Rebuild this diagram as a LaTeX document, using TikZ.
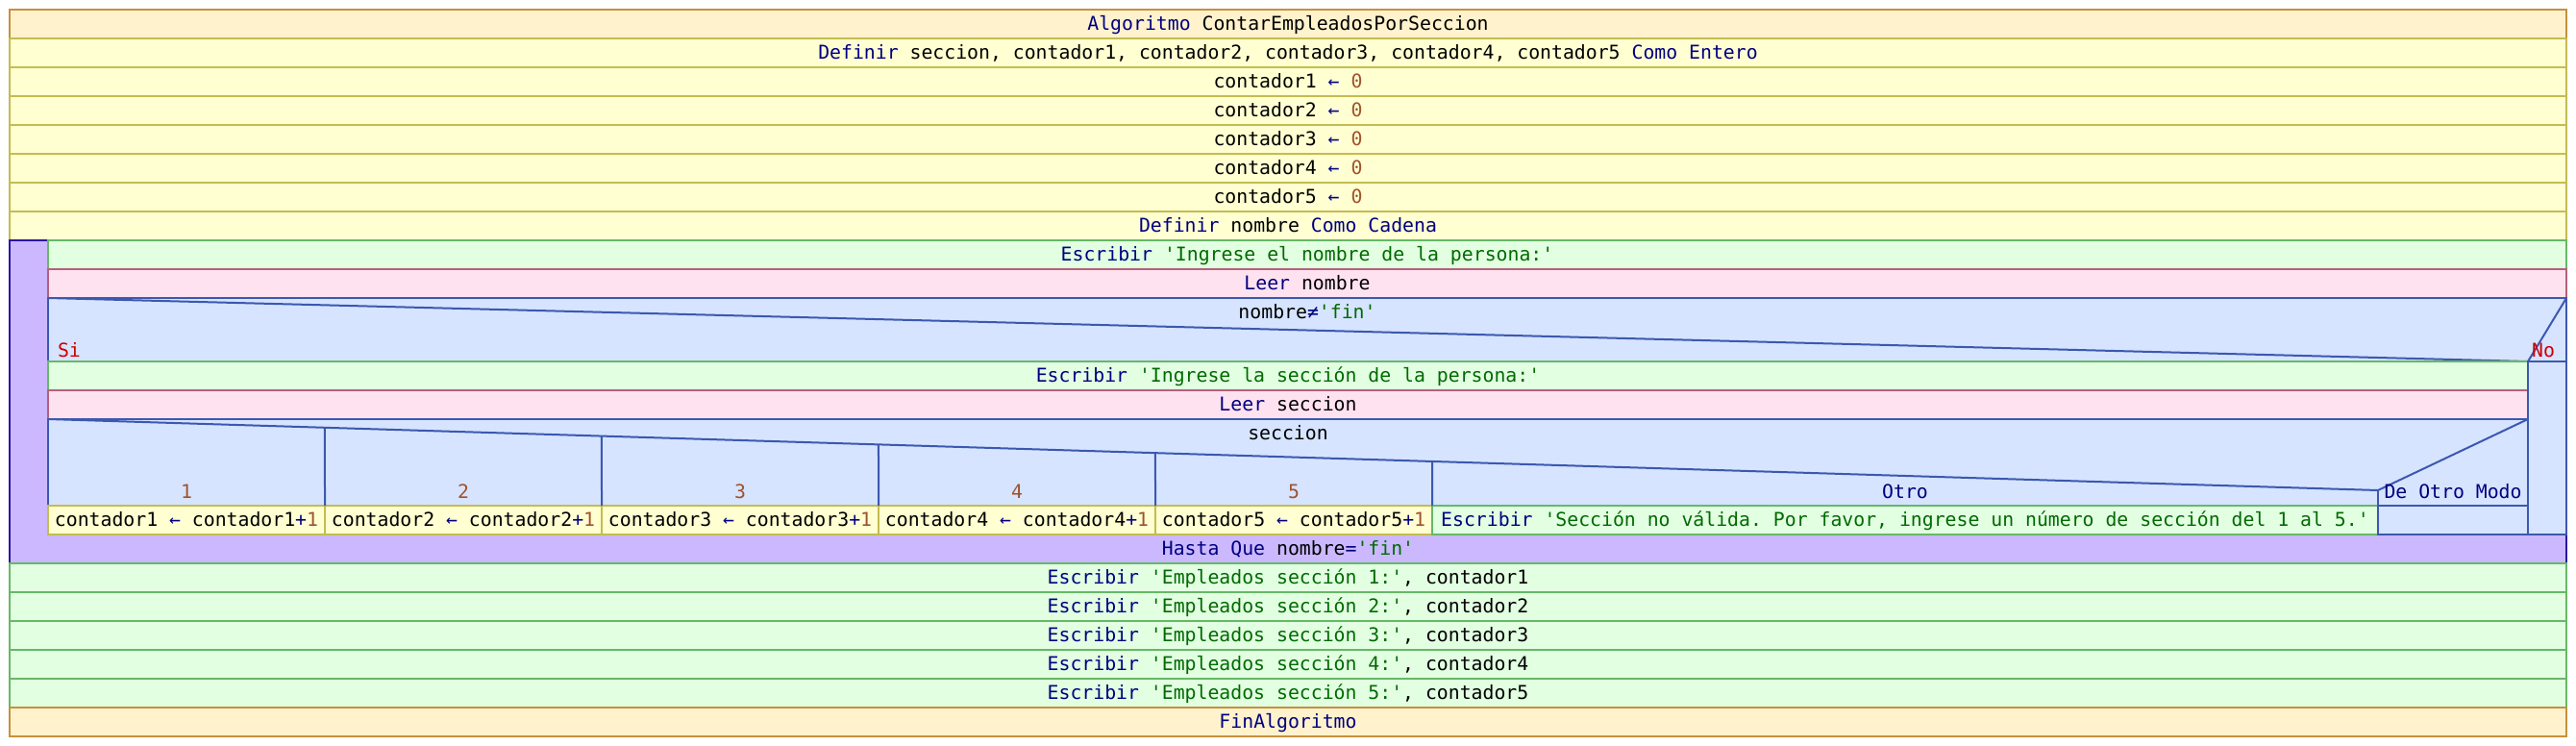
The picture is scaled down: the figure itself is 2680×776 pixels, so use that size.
\documentclass[tikz,border=0pt]{standalone}
\usepackage{fontspec}
\setmonofont{DejaVu Sans Mono}
\usetikzlibrary{positioning,calc}

\definecolor{algfill}{HTML}{FFF2CC}
\definecolor{algline}{HTML}{C8903C}
\definecolor{asgfill}{HTML}{FFFFD2}
\definecolor{asgline}{HTML}{C4BC50}
\definecolor{escfill}{HTML}{E2FFE2}
\definecolor{escline}{HTML}{66B866}
\definecolor{leefill}{HTML}{FFE2F0}
\definecolor{leeline}{HTML}{B4607C}
\definecolor{cndfill}{HTML}{D6E4FF}
\definecolor{cndline}{HTML}{3C58B0}
\definecolor{loopfill}{HTML}{CBB8FF}
\definecolor{loopline}{HTML}{2C14A4}
\definecolor{kwcol}{HTML}{000080}
\definecolor{strcol}{HTML}{006A00}
\definecolor{numcol}{HTML}{A0522D}
\definecolor{sicol}{HTML}{CC0000}

\newcommand{\kwd}[1]{\textcolor{kwcol}{#1}}
\newcommand{\strg}[1]{\textcolor{strcol}{#1}}
\newcommand{\nmb}[1]{\textcolor{numcol}{#1}}

\begin{document}
\begin{tikzpicture}
[x=1pt, y=-1pt, font=\ttfamily\fontsize{19.8}{24}\selectfont,
    every node/.style={inner sep=0pt, outer sep=0pt, text height=16pt, text depth=2.6pt},
    row/.style={rectangle, line width=2pt, minimum height=30pt, anchor=north west},
    under/.style={below=0pt of #1, anchor=north west},
    beside/.style={right=0pt of #1, anchor=north west},
    wide/.style={minimum width=2660pt},
    body/.style={minimum width=2620pt},
    branch/.style={minimum width=2580pt},
    case/.style={minimum width=288pt},
    algbox/.style={row, fill=algfill, draw=algline},
    asgbox/.style={row, fill=asgfill, draw=asgline},
    escbox/.style={row, fill=escfill, draw=escline},
    leebox/.style={row, fill=leefill, draw=leeline},
    cndbox/.style={row, fill=cndfill, draw=cndline},
    loopbox/.style={row, fill=loopfill, draw=loopline},
    cndln/.style={draw=cndline, line width=2pt},
    caselbl/.style={anchor=base},
    ]
    \useasboundingbox (0,0) rectangle (2680,776);

    % cabecera y definiciones
    \node[algbox, wide] (alg) at (10,10) {\kwd{Algoritmo} ContarEmpleadosPorSeccion};
    \node[asgbox, wide, under=alg.south west] (defs) {\kwd{Definir} seccion, contador1, contador2, contador3, contador4, contador5 \kwd{Como Entero}};
    \node[asgbox, wide, under=defs.south west] (c1) {contador1 \kwd{←} \nmb{0}};
    \node[asgbox, wide, under=c1.south west] (c2) {contador2 \kwd{←} \nmb{0}};
    \node[asgbox, wide, under=c2.south west] (c3) {contador3 \kwd{←} \nmb{0}};
    \node[asgbox, wide, under=c3.south west] (c4) {contador4 \kwd{←} \nmb{0}};
    \node[asgbox, wide, under=c4.south west] (c5) {contador5 \kwd{←} \nmb{0}};
    \node[asgbox, wide, under=c5.south west] (defn) {\kwd{Definir} nombre \kwd{Como Cadena}};

    % repetir ... hasta que
    \node[loopbox, wide, minimum height=336pt, under=defn.south west] (loop) {};
    \node[escbox, body] (ask1) at (50,250) {\kwd{Escribir} \strg{'Ingrese el nombre de la persona:'}};
    \node[leebox, body, under=ask1.south west] (read1) {\kwd{Leer} nombre};
    \node[cndbox, body, minimum height=66pt, under=read1.south west] (cond) {};
    \node (condtxt) at ($(cond.north)+(0,15)$) {nombre\kwd{≠}\strg{'fin'}};
    \coordinate (nosplit) at (2630,376);
    \draw[cndln] (cond.north west) -- (nosplit) -- (cond.north east);
    \node[anchor=base west, text=sicol] (si) at (60,371) {Si};
    \node[anchor=base east, text=sicol] (no) at (2658,371) {No};

    % rama Si
    \node[escbox, branch, under=cond.south west] (ask2) {\kwd{Escribir} \strg{'Ingrese la sección de la persona:'}};
    \node[leebox, branch, under=ask2.south west] (read2) {\kwd{Leer} seccion};
    \node[cndbox, branch, minimum height=90pt, under=read2.south west] (sel) {};
    \node (seltxt) at ($(sel.north)+(0,15)$) {seccion};
    \node[asgbox, case, under=sel.south west] (b1) {contador1 \kwd{←} contador1\kwd{+}\nmb{1}};
    \node[asgbox, case, beside=b1.north east] (b2) {contador2 \kwd{←} contador2\kwd{+}\nmb{1}};
    \node[asgbox, case, beside=b2.north east] (b3) {contador3 \kwd{←} contador3\kwd{+}\nmb{1}};
    \node[asgbox, case, beside=b3.north east] (b4) {contador4 \kwd{←} contador4\kwd{+}\nmb{1}};
    \node[asgbox, case, beside=b4.north east] (b5) {contador5 \kwd{←} contador5\kwd{+}\nmb{1}};
    \node[escbox, minimum width=984pt, beside=b5.north east] (b6) {\kwd{Escribir} \strg{'Sección no válida. Por favor, ingrese un número de sección del 1 al 5.'}};
    \node[cndbox, minimum width=156pt, beside=b6.north east] (b7) {};
    \coordinate (dflt) at (2474,510);
    \draw[cndln] (sel.north west) -- (dflt) -- (sel.north east);
    \draw[cndln] (dflt) -- (b7.north west);
    \draw[cndln] (b2.north west) -- ($(sel.north west)!{288/2424}!(dflt)$);
    \draw[cndln] (b3.north west) -- ($(sel.north west)!{576/2424}!(dflt)$);
    \draw[cndln] (b4.north west) -- ($(sel.north west)!{864/2424}!(dflt)$);
    \draw[cndln] (b5.north west) -- ($(sel.north west)!{1152/2424}!(dflt)$);
    \draw[cndln] (b6.north west) -- ($(sel.north west)!{1440/2424}!(dflt)$);
    \node[caselbl, text=numcol] (k1) at ($(b1.north)+(0,-8)$) {1};
    \node[caselbl, text=numcol] (k2) at ($(b2.north)+(0,-8)$) {2};
    \node[caselbl, text=numcol] (k3) at ($(b3.north)+(0,-8)$) {3};
    \node[caselbl, text=numcol] (k4) at ($(b4.north)+(0,-8)$) {4};
    \node[caselbl, text=numcol] (k5) at ($(b5.north)+(0,-8)$) {5};
    \node[caselbl] (kother) at ($(b6.north)+(0,-8)$) {\kwd{Otro}};
    \node[caselbl] (kdflt) at ($(b7.north)+(0,-8)$) {\kwd{De Otro Modo}};

    % rama No (vacia)
    \node[cndbox, minimum width=40pt, minimum height=180pt] (nobr) at (nosplit) {};
    \node (until) at ($(loop.south)+(0,-15)$) {\kwd{Hasta Que} nombre\kwd{=}\strg{'fin'}};

    % salida
    \node[escbox, wide, under=loop.south west] (out1) {\kwd{Escribir} \strg{'Empleados sección 1:'}, contador1};
    \node[escbox, wide, under=out1.south west] (out2) {\kwd{Escribir} \strg{'Empleados sección 2:'}, contador2};
    \node[escbox, wide, under=out2.south west] (out3) {\kwd{Escribir} \strg{'Empleados sección 3:'}, contador3};
    \node[escbox, wide, under=out3.south west] (out4) {\kwd{Escribir} \strg{'Empleados sección 4:'}, contador4};
    \node[escbox, wide, under=out4.south west] (out5) {\kwd{Escribir} \strg{'Empleados sección 5:'}, contador5};
    \node[algbox, wide, under=out5.south west] (fin) {\kwd{FinAlgoritmo}};
\end{tikzpicture}
\end{document}
